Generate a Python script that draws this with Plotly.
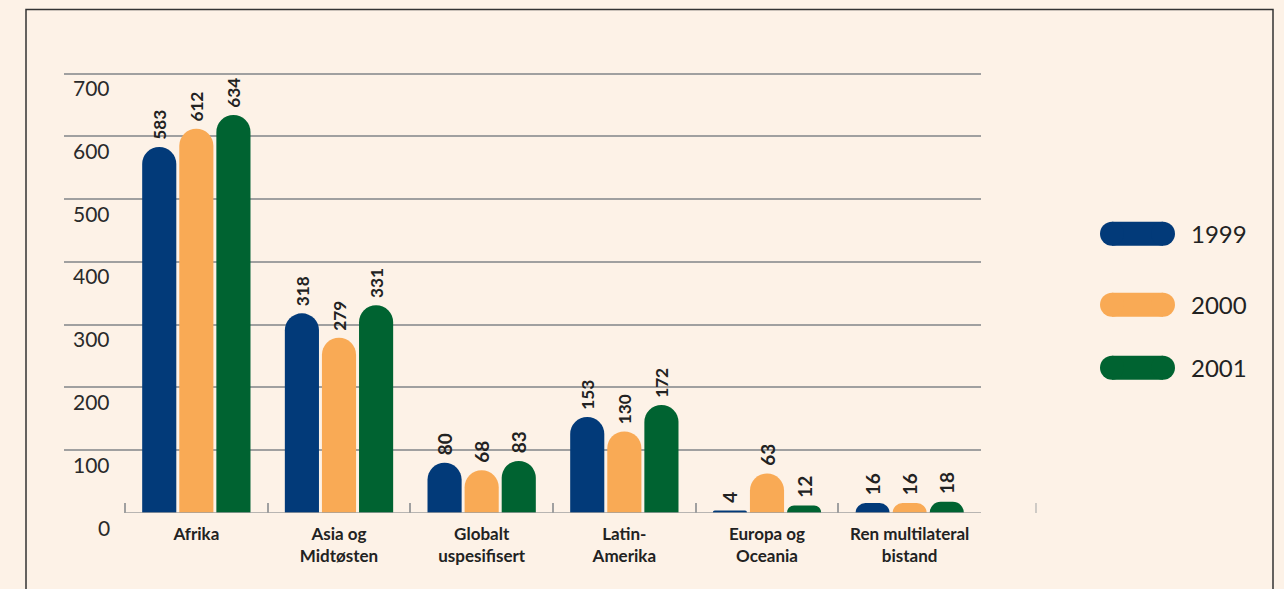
import plotly.graph_objects as go

CATEGORIES = ["Afrika", "Asia og<br>Midtøsten", "Globalt<br>uspesifisert",
              "Latin-<br>Amerika", "Europa og<br>Oceania", "Ren multilateral<br>bistand"]
YEARS = ["1999", "2000", "2001"]
VALUES_1999 = [583, 318, 80, 153, 4, 16]
VALUES_2000 = [612, 279, 68, 130, 63, 16]
VALUES_2001 = [634, 331, 83, 172, 12, 18]
TICK_VALUES = [0, 100, 200, 300, 400, 500, 600, 700]

COLOURS = ["#023a79", "#f9aa55", "#006331"]
BG = "#fdf2e7"
W, H = 1284, 589
Y_TOP = 704                      # a bit above 700 so the top gridline is drawn
PX_PER_UNIT = (513 - 74) / 700
L, R, B = 64, 981, 513           # plot area in pixels
T = 513 - Y_TOP * PX_PER_UNIT


def px(x):
    return (x - L) / (R - L)


def py(y):
    return (B - y) / (B - T)


fig = go.Figure()
for year, vals, col in zip(YEARS, [VALUES_1999, VALUES_2000, VALUES_2001], COLOURS):
    fig.add_trace(go.Bar(
        name=year,
        x=CATEGORIES,
        y=vals,
        marker=dict(color=col, line_width=0),
        text=["\u00a0" + str(v) for v in vals],
        textposition="outside",
        textangle=-90,
        textfont=dict(family="Lato", size=19, color="#222222", weight="bold"),
        cliponaxis=False,
        hoverinfo="skip",
    ))

shapes = []
# frame
shapes.append(dict(type="rect", xref="paper", yref="paper",
                   x0=px(26), x1=px(1273), y0=py(640), y1=py(10),
                   line=dict(color="#333333", width=1.5), layer="below"))
# baseline
shapes.append(dict(type="line", xref="x", yref="y", x0=-0.5, x1=5.5, y0=0, y1=0,
                   line=dict(color="#a0a0a0", width=1.5)))
shapes.append(dict(type="line", xref="paper", yref="paper", x0=px(1036), x1=px(1036),
                   y0=py(513), y1=py(503), line=dict(color="#b0b0b0", width=1.2)))

annotations = []
for v in TICK_VALUES:
    annotations.append(dict(xref="paper", yref="y", x=px(112), y=v, xanchor="right",
                            yanchor="middle", yshift=-14, showarrow=False, text=str(v),
                            font=dict(family="Lato", size=21, color="#2a2a2a")))

# legend pills
pill_tops = [222, 293, 356]
for year, col, top in zip(YEARS, COLOURS, pill_tops):
    x0, x1, h = 1100, 1175, 24
    r = h / 2
    shapes.append(dict(type="rect", xref="paper", yref="paper", x0=px(x0 + r), x1=px(x1 - r),
                       y0=py(top + h), y1=py(top), fillcolor=col, line_width=0))
    for cx in (x0, x1 - h):
        shapes.append(dict(type="circle", xref="paper", yref="paper", x0=px(cx), x1=px(cx + h),
                           y0=py(top + h), y1=py(top), fillcolor=col, line_width=0))
    annotations.append(dict(xref="paper", yref="paper", x=px(1189), y=py(top + r),
                            xanchor="left", yanchor="middle", showarrow=False, text=year,
                            font=dict(family="Lato", size=24, color="#222222")))

fig.update_layout(
    width=W, height=H,
    margin=dict(l=L, r=W - R, t=T, b=H - B),
    paper_bgcolor=BG, plot_bgcolor=BG,
    barmode="group", bargap=0.22, bargroupgap=0.08,
    barcornerradius="50%",
    showlegend=False,
    shapes=shapes,
    annotations=annotations,
    xaxis=dict(
        type="category",
        range=[-0.5 - (125 - L) / ((R - 125) / 6), 5.5],
        tickson="boundaries",
        ticks="inside", ticklen=10, tickcolor="#a0a0a0", tickwidth=1.5,
        ticklabelstandoff=9,
        showgrid=False, showline=False, zeroline=False,
        tickfont=dict(family="Lato", size=17, color="#222222", weight="bold"),
    ),
    yaxis=dict(
        range=[0, Y_TOP],
        tickvals=TICK_VALUES[1:],
        showticklabels=False,
        showgrid=True, gridcolor="#a0a0a0", gridwidth=1.5,
        zeroline=False, showline=False,
    ),
)

fig.write_html("out.html",
               config={"displayModeBar": False},
               post_script="document.body.style.margin='0';"
                           "document.body.style.background='" + BG + "';")
